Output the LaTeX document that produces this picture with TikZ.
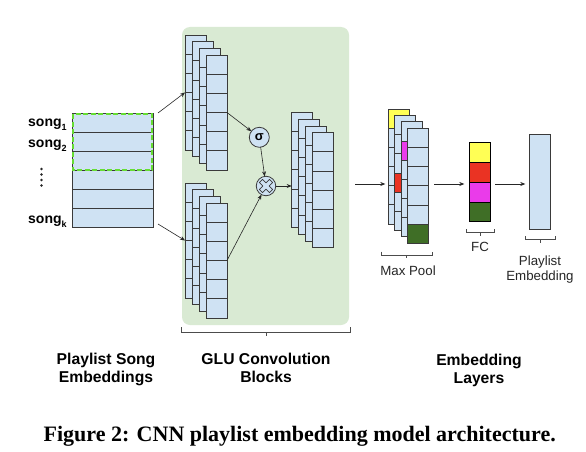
\documentclass[tikz,border=0pt]{standalone}
\usepackage{fontspec}
\setmainfont{Liberation Sans}
\newfontfamily\capfont{Liberation Serif}
\usetikzlibrary{calc,arrows.meta}
\definecolor{cellblue}{HTML}{CFE2F3}
\definecolor{glugreen}{HTML}{D9EAD3}
\definecolor{edgecol}{HTML}{3A3A3A}
\definecolor{dashgreen}{HTML}{66DD33}
\definecolor{myyellow}{HTML}{FFFF55}
\definecolor{myred}{HTML}{EA3323}
\definecolor{mymagenta}{HTML}{EA3BEA}
\definecolor{mygreen}{HTML}{3F6E26}
\tikzset{
  sheet/.style={rectangle, draw=edgecol, fill=cellblue, line width=0.8pt,
    minimum width=21pt, minimum height=115pt, inner sep=0pt, outer sep=0pt},
  cellline/.style={draw=edgecol, line width=0.8pt},
  arr/.style={-{Stealth[length=5pt,width=4pt]}, line width=0.6pt, draw=black!85},
  bracepath/.style={line width=0.6pt, draw=black!70},
  biglabel/.style={font=\bfseries\fontsize{15.7}{18}\selectfont, inner sep=0pt, anchor=base},
  smalllabel/.style={font=\fontsize{13.3}{16}\selectfont, inner sep=0pt, anchor=base, text=black!85},
  songlabel/.style={font=\bfseries\fontsize{14}{16}\selectfont, inner sep=0pt, anchor=base west},
  opcircle/.style={circle, draw=edgecol, fill=cellblue, line width=0.8pt, inner sep=0pt, outer sep=0pt},
}
\newcommand{\sheetat}[3]{%
  \node[sheet, anchor=north west] (#3) at (#1,#2) {};
  \foreach \k in {1,...,5}
    \draw[cellline] ($(#3.north west)+(0,\k*19.1667)$) -- ($(#3.north east)+(0,\k*19.1667)$);
}
\newcommand{\cellfill}[3]{%
  \draw[cellline, fill=#3] ($(#1.north west)+(0,#2*19.1667)$) rectangle ($(#1.north east)+(0,#2*19.1667+19.1667)$);
}
\newcommand{\subs}[1]{\raisebox{-4pt}{\fontsize{9}{9}\selectfont\bfseries #1}}
\begin{document}
\begin{tikzpicture}[x=1pt,y=-1pt]
\useasboundingbox (0,0) rectangle (586,452);
\fill[white] (0,0) rectangle (586,452);

% GLU background
\node[rectangle, fill=glugreen, rounded corners=8pt, minimum width=167pt, minimum height=298pt,
  anchor=north west, inner sep=0pt, outer sep=0pt] (glubg) at (182,27) {};

% song embeddings matrix
\node[rectangle, draw=edgecol, fill=cellblue, line width=0.8pt, minimum width=81pt, minimum height=114pt,
  inner sep=0pt, outer sep=0pt, anchor=north west] (emb) at (72,113) {};
\foreach \k in {1,...,5}
  \draw[cellline] ($(emb.north west)+(0,\k*19)$) -- ($(emb.north east)+(0,\k*19)$);
\draw[dashgreen, line width=1.5pt, dash pattern=on 5pt off 2.5pt] (73,114) rectangle (152,170);

\node[songlabel] (s1) at (28,126.7) {song\subs{1}};
\node[songlabel] (s2) at (28,147.7) {song\subs{2}};
\node[songlabel] (sk) at (28,223.3) {song\subs{k}};
\foreach \yy in {169,174.5,180,185.5}
  \fill[black!85] (41.5,\yy) circle (1.3pt);

% upper GLU stack
\sheetat{185}{35}{u1}
\sheetat{192}{41.7}{u2}
\sheetat{199}{48.3}{u3}
\sheetat{206}{55}{u4}
% lower GLU stack
\sheetat{185}{183}{l1}
\sheetat{192}{189.7}{l2}
\sheetat{199}{196.3}{l3}
\sheetat{206}{203}{l4}
% output stack
\sheetat{291.7}{112.3}{o1}
\sheetat{298.5}{119.1}{o2}
\sheetat{305.3}{125.9}{o3}
\sheetat{312}{132.7}{o4}

% operators
\node[opcircle, minimum size=20pt] (sig) at (259.3,137.3) {\bfseries\fontsize{13}{13}\selectfont σ};
\node[opcircle, minimum size=19.5pt] (tim) at (266,186) {};
\draw[cellline, fill=cellblue, line width=0.75pt, shift={(tim.center)}, rotate=45, line join=round]
  (2.2,2.2) -- (7.2,2.2) -- (7.2,-2.2) -- (2.2,-2.2) -- (2.2,-7.2) -- (-2.2,-7.2) -- (-2.2,-2.2)
  -- (-7.2,-2.2) -- (-7.2,2.2) -- (-2.2,2.2) -- (-2.2,7.2) -- (2.2,7.2) -- cycle;

% arrows into/inside GLU
\coordinate (e1) at ($(emb.north east)+(5,0)$);
\coordinate (e2) at ($(emb.south east)+(5,-3)$);
\draw[arr] (e1) -- ($(u1.north west)+(0,3*19.1667)$);
\draw[arr] (e2) -- ($(l1.north west)+(0,3*19.1667)$);
\draw[arr] ($(u4.north east)+(0,3*19.1667)$) -- (sig);
\draw[arr] ($(l4.north east)+(0,3*19.1667)$) -- (tim);
\draw[arr] (sig) -- (tim);
\draw[arr] (tim) -- (tim -| o1.west);

% max pool stack
\sheetat{388.3}{109}{m1}
\cellfill{m1}{0}{myyellow}
\sheetat{394.8}{115.4}{m2}
\cellfill{m2}{3}{myred}
\sheetat{401.3}{121.8}{m3}
\cellfill{m3}{1}{mymagenta}
\sheetat{407.8}{128.3}{m4}
\cellfill{m4}{5}{mygreen}

\coordinate (a0) at (355,184);
\draw[arr, shorten >=3pt] (a0) -- (a0 -| m1.west);

% FC
\node[rectangle, draw=black, line width=0.8pt, minimum width=21.4pt, minimum height=79pt,
  inner sep=0pt, outer sep=0pt, anchor=north west] (fc) at (469.3,142.7) {};
\draw[draw=black, line width=0.8pt, fill=myyellow] (fc.north west) rectangle ($(fc.north east)+(0,19.75)$);
\draw[draw=black, line width=0.8pt, fill=myred] ($(fc.north west)+(0,19.75)$) rectangle ($(fc.north east)+(0,39.5)$);
\draw[draw=black, line width=0.8pt, fill=mymagenta] ($(fc.north west)+(0,39.5)$) rectangle ($(fc.north east)+(0,59.25)$);
\draw[draw=black, line width=0.8pt, fill=mygreen] ($(fc.north west)+(0,59.25)$) rectangle (fc.south east);

% playlist embedding
\node[rectangle, draw=edgecol, fill=cellblue, line width=0.8pt, minimum width=21.4pt, minimum height=95pt,
  inner sep=0pt, outer sep=0pt, anchor=north west] (pe) at (529.3,134.3) {};

\coordinate (a1) at (434,184);
\coordinate (a2) at (495,184);
\draw[arr, shorten >=5pt] (a1) -- (a1 -| fc.west);
\draw[arr, shorten >=4pt] (a2) -- (a2 -| pe.west);

% braces
\draw[bracepath] (181,327) -- (181,332) -- (350,332) -- (350,327);
\draw[bracepath] (266,332) -- (266,335.5);
\draw[bracepath] (381.7,251.7) -- (381.7,255) -- (432.3,255) -- (432.3,251.7);
\draw[bracepath] (406.7,255) -- (406.7,258.3);
\draw[bracepath] (466.7,229.3) -- (466.7,232.7) -- (494,232.7) -- (494,229.3);
\draw[bracepath] (480,232.7) -- (480,236);
\draw[bracepath] (525,236) -- (525,239.3) -- (555,239.3) -- (555,236);
\draw[bracepath] (540,239.3) -- (540,242.6);

% small labels
\node[smalllabel] (lmp) at (408,275) {Max Pool};
\node[smalllabel] (lfc) at (480,251.7) {FC};
\node[smalllabel] (lpe1) at (540,265.7) {Playlist};
\node[smalllabel] (lpe2) at (540,280.7) {Embedding};

% big labels
\node[biglabel] (b1a) at (106,364) {Playlist Song};
\node[biglabel] (b1b) at (106,382.3) {Embeddings};
\node[biglabel] (b2a) at (266,364) {GLU Convolution};
\node[biglabel] (b2b) at (266,382.3) {Blocks};
\node[biglabel] (b3a) at (479,365.7) {Embedding};
\node[biglabel] (b3b) at (479,383.3) {Layers};

% caption
\node[inner sep=0pt, anchor=base, font=\capfont\bfseries\fontsize{22}{26}\selectfont] (cap) at (299.7,441.7)
  {Figure 2: CNN playlist embedding model architecture.};
\end{tikzpicture}
\end{document}
